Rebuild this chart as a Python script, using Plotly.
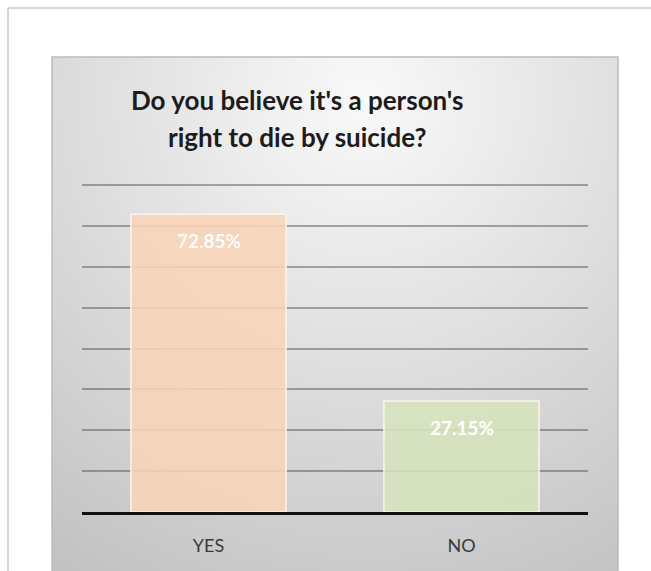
import base64
import struct
import zlib

import numpy as np
import plotly.graph_objects as go

# ---- data ----
categories = ["YES", "NO"]
percentages = [72.85, 27.15]
bar_colors = ["rgba(248,212,182,0.88)", "rgba(214,227,188,0.88)"]
title_lines = ["Do you believe it's a person's", "right to die by suicide?"]
grid_values = [10, 20, 30, 40, 50, 60, 70, 80]
y_max = 80.5

W, H = 651, 571
BASE_PY = 512            # pixel row of the category axis
UNIT = 327 / 80          # pixels per percentage point
L, R, B = 82, 63, H - BASE_PY
T = round(BASE_PY - y_max * UNIT)
PW, PH = W - L - R, H - T - B


def px_x(px):
    return (px - L) / PW


def px_y(py):
    return (H - B - py) / PH


def gradient_png(w, h):
    """Grey radial gradient used as the chart-panel background."""
    xs = np.linspace(0, 1, w)[None, :]
    ys = np.linspace(0, 1, h)[:, None]
    d = np.sqrt(((xs - 0.55) / 0.9) ** 2 + ((ys - 0.08) / 1.0) ** 2)
    v = 250 - 56 * np.clip(d, 0, 1.1) / 1.1
    img = np.clip(v, 0, 255).astype(np.uint8)
    raw = b"".join(b"\x00" + img[r].tobytes() for r in range(h))

    def chunk(tag, data):
        return (struct.pack(">I", len(data)) + tag + data
                + struct.pack(">I", zlib.crc32(tag + data) & 0xFFFFFFFF))

    png = (b"\x89PNG\r\n\x1a\n"
           + chunk(b"IHDR", struct.pack(">IIBBBBB", w, h, 8, 0, 0, 0, 0))
           + chunk(b"IDAT", zlib.compress(raw, 9))
           + chunk(b"IEND", b""))
    return "data:image/png;base64," + base64.b64encode(png).decode()


fig = go.Figure(
    go.Bar(
        x=categories,
        y=percentages,
        marker=dict(color=bar_colors,
                    line=dict(color="rgba(255,246,236,0.95)", width=1.5)),
        hoverinfo="skip",
    )
)

# value labels just inside the top of each bar
for cat, val in zip(categories, percentages):
    fig.add_annotation(x=cat, y=val, yshift=-26, text=f"<b>{val:.2f}%</b>",
                       showarrow=False, yanchor="middle",
                       font=dict(family="Lato", size=19, color="white"))

# two-line chart title
for text, py in zip(title_lines, [100, 137]):
    fig.add_annotation(xref="paper", yref="paper", x=px_x(297), y=px_y(py),
                       text=f"<b>{text}</b>", showarrow=False,
                       xanchor="center", yanchor="middle",
                       font=dict(family="Lato", size=26, color="#1c1c1c"))

shapes = [
    # panel border
    dict(type="rect", xref="paper", yref="paper",
         x0=px_x(52), x1=px_x(618), y0=px_y(57), y1=px_y(575),
         line=dict(color="#bcbcbc", width=1.5), layer="below"),
    # outer frame lines (top and left)
    dict(type="line", xref="paper", yref="paper",
         x0=px_x(8), x1=px_x(655), y0=px_y(8), y1=px_y(8),
         line=dict(color="#c9c9c9", width=1.5)),
    dict(type="line", xref="paper", yref="paper",
         x0=px_x(8), x1=px_x(8), y0=px_y(8), y1=px_y(575),
         line=dict(color="#c9c9c9", width=1.5)),
]

fig.update_layout(
    width=W, height=H,
    margin=dict(l=L, r=R, t=T, b=B, pad=0),
    paper_bgcolor="white",
    plot_bgcolor="rgba(0,0,0,0)",
    showlegend=False,
    bargap=0.387,
    shapes=shapes,
    images=[dict(source=gradient_png(283, 257), xref="paper", yref="paper",
                 x=px_x(52), y=px_y(57), sizex=(618 - 52) / PW,
                 sizey=(571 - 57) / PH, xanchor="left", yanchor="top",
                 sizing="stretch", layer="below")],
    xaxis=dict(showgrid=False, showline=True, linecolor="#111111",
               linewidth=3, ticks="outside", ticklen=15,
               tickcolor="rgba(0,0,0,0)",
               tickfont=dict(family="Lato", size=18, color="#3a3a3a"),
               fixedrange=True),
    yaxis=dict(range=[0, y_max], tickvals=grid_values, showticklabels=False,
               showgrid=True, gridcolor="rgba(70,70,70,0.45)", gridwidth=1.5,
               zeroline=False, showline=False, fixedrange=True),
)

fig.write_html("out.html", config={"displayModeBar": False})
